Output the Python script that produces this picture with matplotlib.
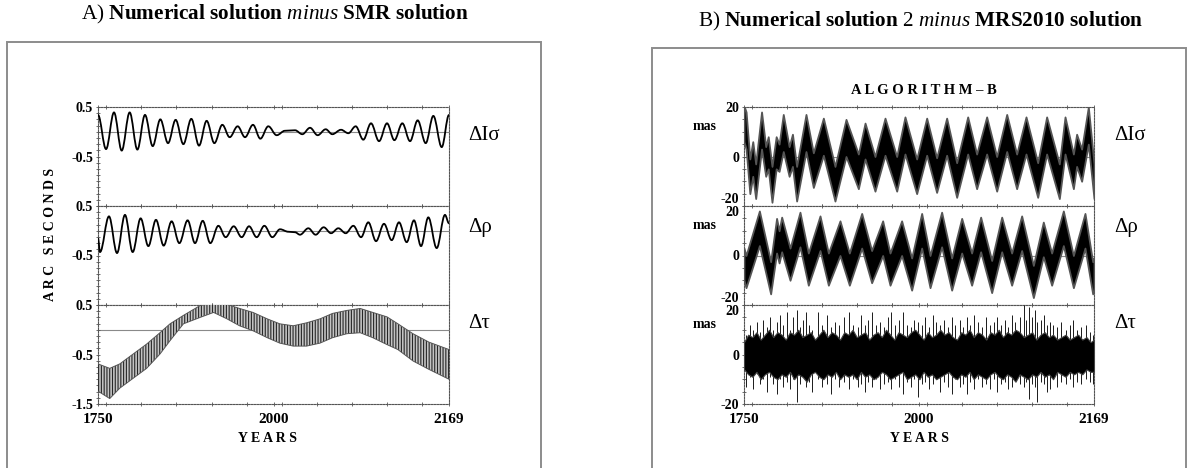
import numpy as np
import matplotlib.pyplot as plt
from matplotlib.path import Path
from matplotlib.patches import PathPatch, Rectangle
from matplotlib.ticker import MultipleLocator

plt.rcParams["font.family"] = ["Liberation Serif", "DejaVu Serif"]
plt.rcParams["mathtext.fontset"] = "custom"
plt.rcParams["mathtext.rm"] = "Liberation Serif"
plt.rcParams["mathtext.bf"] = "Liberation Serif:bold"
plt.rcParams["mathtext.it"] = "Liberation Serif:italic"
plt.rcParams["hatch.linewidth"] = 0.8

# ---- panel A: numerical solution minus SMR (arc seconds), extrema
SIG_A_YEARS = [1750.0, 1759.6, 1769.1, 1778.3, 1787.8, 1797.0, 1806.1, 1815.3, 1824.4, 1833.6,
               1842.7, 1851.9, 1861.4, 1870.6, 1879.7, 1888.9, 1898.4, 1907.2, 1916.7, 1925.5,
               1935.0, 1943.8, 1953.3, 1963.3, 1973.2, 1985.2, 1993.9, 2003.1, 2012.2, 2021.8,
               2029.7, 2040.1, 2048.8, 2057.6, 2066.7, 2075.9, 2085.5, 2095.0, 2103.8, 2113.3,
               2122.5, 2131.6, 2141.2, 2150.3, 2160.3, 2169.0]
SIG_A_VALUES = [0.34, -0.35, 0.39, -0.38, 0.39, -0.36, 0.34, -0.29, 0.25, -0.23,
                0.24, -0.25, 0.26, -0.28, 0.22, -0.23, 0.14, -0.11, 0.11, -0.11,
                0.14, -0.14, 0.11, -0.07, 0.02, 0.03, -0.05, 0.08, -0.07, 0.05,
                -0.05, 0.04, -0.03, 0.11, -0.16, 0.17, -0.19, 0.17, -0.17, 0.17,
                -0.19, 0.23, -0.23, 0.32, -0.31, 0.34]

RHO_A_YEARS = [1750.0, 1752.4, 1763.1, 1772.7, 1782.2, 1791.4, 1800.9, 1810.1, 1819.2, 1828.4,
               1837.9, 1847.1, 1857.0, 1865.8, 1875.0, 1884.1, 1893.7, 1902.4, 1912.0, 1921.5,
               1930.3, 1939.4, 1948.6, 1958.1, 1967.3, 1977.2, 1985.2, 1991.1, 2001.1, 2009.8,
               2019.4, 2028.2, 2036.9, 2045.7, 2054.8, 2064.0, 2072.7, 2081.9, 2091.4, 2100.6,
               2109.3, 2118.5, 2127.2, 2135.6, 2144.3, 2154.3, 2164.2, 2169.0]
RHO_A_VALUES = [-0.15, -0.43, 0.29, -0.45, 0.32, -0.43, 0.25, -0.31, 0.22, -0.30,
                0.19, -0.25, 0.21, -0.25, 0.20, -0.25, 0.10, -0.13, 0.09, -0.13,
                0.09, -0.13, 0.10, -0.13, 0.03, -0.02, -0.03, -0.08, 0.05, -0.08,
                0.07, -0.05, 0.05, -0.05, 0.10, -0.13, 0.17, -0.21, 0.14, -0.19,
                0.17, -0.23, 0.21, -0.31, 0.27, -0.35, 0.32, 0.15]

TAU_A_YEARS = [1750, 1764, 1776, 1792, 1808, 1824, 1836, 1852, 1872, 1888, 1904, 1919,
               1935, 1952, 1967, 1983, 1999, 2015, 2030, 2047, 2063, 2078, 2095, 2108,
               2126, 2145, 2169]
TAU_A_UPPER = [-0.69, -0.78, -0.69, -0.49, -0.29, -0.06, 0.12, 0.29, 0.49, 0.53, 0.51, 0.43,
               0.35, 0.22, 0.12, 0.08, 0.14, 0.22, 0.33, 0.39, 0.43, 0.35, 0.26, 0.12,
               -0.08, -0.25, -0.40]
TAU_A_LOWER = [-1.24, -1.39, -1.18, -0.98, -0.78, -0.49, -0.22, 0.12, 0.25, 0.35, 0.22, 0.08,
               -0.02, -0.16, -0.27, -0.33, -0.33, -0.27, -0.16, -0.08, -0.06, -0.16, -0.30, -0.40,
               -0.63, -0.80, -1.00]

# ---- panel B: numerical solution 2 minus MRS2010 (mas), band edges at extrema
SIG_B_YEARS = [1750.0, 1752.5, 1757.0, 1760.5, 1764.0, 1771.0, 1776.0, 1779.0, 1783.5, 1788.5,
               1792.0, 1797.0, 1804.0, 1808.0, 1813.0, 1824.2, 1833.0, 1845.0, 1858.9, 1872.1,
               1886.9, 1894.9, 1906.8, 1918.8, 1932.8, 1942.7, 1956.7, 1968.7, 1980.6, 1992.6,
               2004.6, 2017.8, 2028.5, 2040.5, 2052.5, 2064.5, 2076.4, 2087.6, 2101.6, 2112.3,
               2127.5, 2134.3, 2144.3, 2148.2, 2154.2, 2162.2, 2169.0]
SIG_B_UPPER = [20.5, 18, -1, 6, -3, 18, 4, 8, -4, 8,
               5, 17, 4, 9, -4, 17, 1.5, 15.5, -4, 15,
               1, 13.5, 0, 15.5, 0, 16, -1, 15.5, -0.5, 15.5,
               -2.5, 16, 1, 16, 0, 17, 1, 16, -2.5, 16,
               -3, 16, 1, 9, 3, 20, -3]
SIG_B_LOWER = [6, 3, -15, -8, -17, 3, -8, -5, -18.5, -5,
               -6, 2, -8, -4, -18, 2, -12.5, 0.5, -18, 0,
               -13, -1, -14, 0.5, -14, 1, -15, 0.5, -14.5, 0.5,
               -16.5, 1, -13, 1, -14, 2, -13, 1, -16.5, 1,
               -17, 1, -13, -4, -10, 5, -17]

RHO_B_YEARS = [1750.0, 1752.4, 1768.4, 1781.9, 1789.0, 1792.0, 1795.1, 1805.1, 1817.0, 1827.0,
               1841.0, 1851.0, 1864.9, 1876.1, 1890.9, 1902.8, 1916.0, 1924.8, 1938.7, 1950.7,
               1962.7, 1972.7, 1986.6, 1998.6, 2010.6, 2022.5, 2033.3, 2046.5, 2058.5, 2070.4,
               2082.4, 2096.4, 2108.3, 2118.3, 2132.3, 2144.3, 2158.2, 2167.4, 2169.0]
RHO_B_UPPER = [3, 0, 18, -2.5, 15, 10, 15.5, 3, 17.5, 1,
               16, 1, 14, 1, 17, 2, 14, 1, 14, -1,
               17, 0, 17.5, -1, 15, 1, 15.5, -2, 15.5, 1,
               16, -4, 13.5, 1, 18, 0, 17, -2.5, -1]
RHO_B_LOWER = [-10, -13, 4, -15.5, 1, -3, 1.5, -10, 3.5, -12,
               2, -12, 0, -12, 3, -11, 0, -12, 0, -14,
               3, -13, 3.5, -14, 1, -12, 1.5, -15, 1.5, -12,
               2, -17, -0.5, -12, 4, -13, 3, -15.5, -14]

TAU_B_YEARS = list(range(1750, 2166, 5)) + [2169]
TAU_B_UPPER = [5, 8, 7, 9, 6, 8, 10, 7, 9, 8, 6, 9, 8, 10, 7, 8, 9, 6, 8, 10,
               7, 9, 8, 6, 9, 8, 10, 7, 8, 9, 6, 8, 9, 7, 10, 8, 6, 9, 8, 7,
               9, 10, 8, 6, 9, 7, 8, 10, 8, 9, 7, 6, 9, 8, 10, 7, 9, 8, 6, 9,
               8, 10, 7, 9, 8, 10, 9, 7, 8, 9, 6, 8, 9, 7, 8, 6, 7, 8, 6, 7,
               8, 6, 7, 5, 6]
TAU_B_LOWER = [-6, -8, -9, -7, -10, -8, -7, -9, -10, -8, -9, -7, -10, -8, -9, -11, -8, -7, -9, -10,
               -8, -9, -7, -10, -8, -9, -8, -10, -7, -9, -8, -10, -9, -7, -8, -10, -9, -8, -7, -10,
               -9, -8, -10, -7, -9, -8, -10, -9, -8, -7, -9, -10, -8, -9, -7, -10, -8, -9, -10, -8,
               -7, -9, -10, -8, -9, -11, -8, -9, -10, -8, -9, -7, -9, -8, -10, -7, -8, -9, -7, -8,
               -7, -8, -6, -7, -7]
TAU_B_SPIKE_YEARS = [1752, 1757, 1761, 1765, 1769, 1773, 1777, 1781, 1785, 1789, 1793, 1797,
                     1801, 1805, 1809, 1813, 1817, 1821, 1824, 1828, 1832, 1838, 1843, 1849,
                     1854, 1859, 1864, 1870, 1876, 1881, 1886, 1890, 1895, 1899, 1903, 1908,
                     1913, 1918, 1922, 1926, 1931, 1935, 1940, 1945, 1950, 1954, 1958, 1963,
                     1967, 1971, 1976, 1980, 1985, 1990, 1994, 1999, 2003, 2008, 2012, 2017,
                     2021, 2025, 2030, 2035, 2040, 2045, 2049, 2053, 2058, 2062, 2066, 2071,
                     2075, 2080, 2085, 2088, 2091, 2095, 2098, 2101, 2105, 2109, 2113, 2116,
                     2120, 2125, 2130, 2135, 2140, 2144, 2149, 2154, 2159, 2164, 2168]
TAU_B_SPIKE_LOW = [-13, -9, -14, -8, -12, -10, -15, -9, -12, -16, -10, -13,
                   -11, -14, -10, -19, -12, -9, -13, -11, -15, -10, -13, -12,
                   -16, -10, -13, -11, -14, -10, -13, -12, -15, -11, -13, -10,
                   -14, -12, -11, -14, -10, -13, -16, -11, -13, -10, -17, -12,
                   -11, -14, -12, -10, -15, -11, -13, -16, -10, -13, -12, -16,
                   -11, -14, -10, -13, -12, -14, -10, -15, -12, -11, -14, -13,
                   -10, -12, -13, -11, -18, -12, -13, -19, -11, -12, -15, -14,
                   -10, -13, -11, -12, -10, -13, -11, -12, -10, -11, -12]
TAU_B_SPIKE_HIGH = [8, 12, 10, 13, 9, 14, 11, 15, 10, 13, 16, 12,
                    17, 10, 15, 18, 11, 14, 17, 12, 10, 17, 12, 16,
                    11, 13, 12, 15, 17, 12, 11, 16, 12, 14, 17, 12,
                    13, 11, 15, 17, 12, 14, 17, 12, 11, 14, 13, 12,
                    15, 11, 16, 13, 12, 14, 11, 15, 12, 14, 11, 15,
                    12, 16, 13, 11, 15, 12, 13, 15, 12, 14, 11, 16,
                    13, 15, 20, 14, 19, 15, 18, 13, 14, 16, 12, 13,
                    12, 11, 13, 10, 12, 14, 10, 11, 12, 9, 8]

X_LABELS = ["1750", "2000", "2169"]
X_MIN, X_MAX = 1750, 2169

W, H = 1190, 468
fig = plt.figure(figsize=(W / 100, H / 100), dpi=100)


def fx(px):
    return px / W


def fy(py):
    return 1 - py / H


def smooth_curve(ax, years, values, **kw):
    # cubic bezier between extrema with flat tangents (sine-like arcs)
    verts = [(years[0], values[0])]
    codes = [Path.MOVETO]
    for i in range(len(years) - 1):
        x0, y0, x1, y1 = years[i], values[i], years[i + 1], values[i + 1]
        h = 0.364 * (x1 - x0)
        verts += [(x0 + h, y0), (x1 - h, y1), (x1, y1)]
        codes += [Path.CURVE4] * 3
    ax.add_patch(PathPatch(Path(verts, codes), fill=False, **kw))


def style_axes(ax, ylim, yticks, ylabels, minor_y, bottom):
    ax.set_xlim(X_MIN, X_MAX)
    ax.set_ylim(*ylim)
    for s in ax.spines.values():
        s.set_linestyle((0, (1.5, 1.2)))
        s.set_color("#555555")
        s.set_linewidth(0.8)
    ax.set_yticks(yticks)
    ax.set_yticklabels(ylabels, fontweight="bold", fontsize=10)
    ax.yaxis.set_minor_locator(MultipleLocator(minor_y))
    ax.xaxis.set_minor_locator(MultipleLocator((X_MAX - X_MIN) / 10))
    mid = (X_MIN + X_MAX) / 2
    ax.set_xticks([X_MIN, mid, X_MAX])
    if bottom:
        ax.set_xticklabels(X_LABELS, fontweight="bold", fontsize=11)
    else:
        ax.set_xticklabels([])
    ax.tick_params(axis="both", which="both", direction="inout", color="#555555",
                   top=True, right=False, length=3, width=0.6)
    ax.tick_params(axis="y", which="major", pad=2, length=3)
    ax.tick_params(axis="x", which="major", pad=5, length=3)
    ax.axhline(0, color="#8a8a8a", lw=0.8, zorder=1)


# panel frames
fig.add_artist(Rectangle((fx(7), fy(520)), fx(541 - 7), fy(42) - fy(520), transform=fig.transFigure,
                         fill=False, edgecolor="#8c8c8c", lw=1.4))
fig.add_artist(Rectangle((fx(652), fy(520)), fx(1186 - 652), fy(48) - fy(520), transform=fig.transFigure,
                         fill=False, edgecolor="#8c8c8c", lw=1.4))

tops = [107, 206, 305]
ph = 99

# ---- panel A
axA = []
for i, t in enumerate(tops):
    ax = fig.add_axes([fx(98), fy(t + ph), fx(449 - 98), ph / H])
    axA.append(ax)
    if i < 2:
        style_axes(ax, (-1.5, 0.5), [-0.5, 0.5], ["-0.5", "0.5"], 0.125, False)
    else:
        style_axes(ax, (-1.5, 0.5), [-1.5, -0.5, 0.5], ["-1.5", "-0.5", "0.5"], 0.125, True)

smooth_curve(axA[0], SIG_A_YEARS, SIG_A_VALUES, edgecolor="black", lw=1.3, zorder=3)
smooth_curve(axA[1], RHO_A_YEARS, RHO_A_VALUES, edgecolor="black", lw=1.3, zorder=3)
axA[2].fill_between(TAU_A_YEARS, TAU_A_LOWER, TAU_A_UPPER, facecolor="#c4c4c4",
                    edgecolor="#262626", hatch="||||||", linewidth=0, zorder=3)
axA[2].plot(TAU_A_YEARS, TAU_A_UPPER, color="#555555", lw=0.7, zorder=3)
axA[2].plot(TAU_A_YEARS, TAU_A_LOWER, color="#555555", lw=0.7, zorder=3)

# ---- panel B
axB = []
for i, t in enumerate(tops):
    ax = fig.add_axes([fx(744), fy(t + ph), fx(1094 - 744), ph / H])
    axB.append(ax)
    style_axes(ax, (-20, 20), [-20, 0, 20], ["-20", "0", "20"], 5, i == 2)
    labels = ax.get_yticklabels()
    if i < 2:
        labels[0].set_verticalalignment("bottom")
    if i > 0:
        labels[2].set_verticalalignment("top")
    ax.text(-0.113, 0.8, "mas", transform=ax.transAxes, ha="center", va="center",
            fontsize=10, fontweight="bold")

for ax, yrs, lo, hi in [(axB[0], SIG_B_YEARS, SIG_B_LOWER, SIG_B_UPPER),
                        (axB[1], RHO_B_YEARS, RHO_B_LOWER, RHO_B_UPPER)]:
    ax.fill_between(yrs, lo, hi, facecolor="black", edgecolor="#555555", linewidth=1.3, zorder=3)

axB[2].vlines(TAU_B_SPIKE_YEARS, TAU_B_SPIKE_LOW, TAU_B_SPIKE_HIGH, color="#1a1a1a", lw=0.7, zorder=3)
axB[2].fill_between(TAU_B_YEARS, TAU_B_LOWER, TAU_B_UPPER, facecolor="black",
                    edgecolor="#444444", linewidth=0.8, zorder=4)

# ---- labels
for x0 in (468, 1114):
    for y0, lab in zip((135, 227, 323), ("ΔIσ", "Δρ", "Δτ")):
        fig.text(fx(x0), fy(y0), lab, fontsize=15, ha="left", va="center")

fig.text(fx(267), fy(438), "Y E A R S", fontsize=10, fontweight="bold", ha="center", va="center")
fig.text(fx(919), fy(438), "Y E A R S", fontsize=10, fontweight="bold", ha="center", va="center")
fig.text(fx(51), fy(234), "A R C   S E C O N D S", fontsize=10, fontweight="bold",
         rotation=90, ha="center", va="center")
fig.text(fx(924), fy(90), "A L G O R I T H M – B", fontsize=10.5, fontweight="bold",
         ha="center", va="center")

fig.text(fx(275), fy(14), r"A) $\mathbf{Numerical\ solution}$ $\mathit{minus}$ $\mathbf{SMR\ solution}$",
         fontsize=15.3, ha="center", va="center")
fig.text(fx(921), fy(21), r"B) $\mathbf{Numerical\ solution}$ 2 $\mathit{minus}$ $\mathbf{MRS2010\ solution}$",
         fontsize=15.3, ha="center", va="center")

fig.savefig("out.png", dpi=100)
